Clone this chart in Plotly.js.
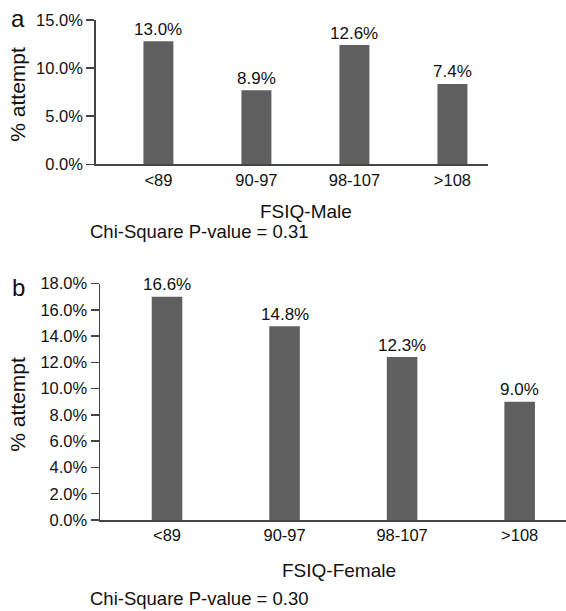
<!DOCTYPE html>
<html>
<head>
<meta charset="utf-8">
<script src="https://cdn.plot.ly/plotly-3.0.1.min.js"></script>
<style>
  html, body { margin: 0; padding: 0; background: #fff; }
  #chart { width: 566px; height: 611px; }
</style>
</head>
<body>
<div id="chart"></div>
<script>
// ---- Data ----
const categories = ["<89", "90-97", "98-107", ">108"];

// Panel a: FSIQ-Male — bar heights as drawn, and the printed labels
const maleValues = [12.8, 7.7, 12.4, 8.35];
const maleLabels = ["13.0%", "8.9%", "12.6%", "7.4%"];

// Panel b: FSIQ-Female
const femaleValues = [17.0, 14.75, 12.4, 9.0];
const femaleLabels = ["16.6%", "14.8%", "12.3%", "9.0%"];

const maleYTicks = [0, 5, 10, 15];
const femaleYTicks = [0, 2, 4, 6, 8, 10, 12, 14, 16, 18];

const maleXTitle = "FSIQ-Male";
const femaleXTitle = "FSIQ-Female";
const maleChi = "Chi-Square P-value = 0.31";
const femaleChi = "Chi-Square P-value = 0.30";
const yTitle = "% attempt";

// ---- Styling ----
const FONT = "Liberation Sans, Arial, Helvetica, sans-serif";
const BAR = "#5f5f5f";
const AXIS = "#444444";
const W = 566, H = 611;
const px = x => x / W;
const py = y => 1 - y / H;

const traces = [
  { type: "bar", x: categories, y: maleValues, xaxis: "x", yaxis: "y",
    marker: { color: BAR }, width: 0.306, hoverinfo: "skip" },
  { type: "bar", x: categories, y: femaleValues, xaxis: "x2", yaxis: "y2",
    marker: { color: BAR }, width: 0.26, hoverinfo: "skip" }
];

const tickFont = { family: FONT, size: 16.5, color: "#111" };

function yAxis(domain, range, ticks) {
  return {
    domain: domain, range: range, tickvals: ticks,
    ticktext: ticks.map(v => v.toFixed(1) + "%"),
    showgrid: false, zeroline: false, showline: true,
    linecolor: AXIS, linewidth: 1.5, ticks: "outside", ticklen: 8,
    tickcolor: AXIS, tickwidth: 1.5, tickfont: tickFont, fixedrange: true
  };
}
function xAxis(domain, range, anchor) {
  return {
    domain: domain, range: range, anchor: anchor, type: "category",
    showgrid: false, zeroline: false, showline: true,
    linecolor: AXIS, linewidth: 1.5, ticks: "", tickfont: tickFont,
    fixedrange: true
  };
}

const annotations = [];
function addLabels(values, labels, xref, yref) {
  categories.forEach((c, i) => {
    annotations.push({
      x: c, y: values[i], xref: xref, yref: yref, text: labels[i],
      showarrow: false, yanchor: "middle", xanchor: "center", yshift: 12,
      font: { family: FONT, size: 17, color: "#111" }
    });
  });
}
addLabels(maleValues, maleLabels, "x", "y");
addLabels(femaleValues, femaleLabels, "x2", "y2");

function paperText(text, x, y, size, opts) {
  annotations.push(Object.assign({
    text: text, x: x, y: y, xref: "paper", yref: "paper",
    showarrow: false, xanchor: "center", yanchor: "middle",
    font: { family: FONT, size: size, color: "#111" }
  }, opts || {}));
}
paperText("a", px(18.3), py(19), 24);
paperText("b", px(18.3), py(288), 24);
paperText(yTitle, px(16.7), py(94), 21, { textangle: -90 });
paperText(yTitle, px(16.7), py(404), 21, { textangle: -90 });
paperText(maleXTitle, px(306), py(211), 19);
paperText(femaleXTitle, px(339), py(570), 19);
paperText(maleChi, px(88), py(231.7), 18.5, { xanchor: "left" });
paperText(femaleChi, px(88.3), py(598.3), 18.5, { xanchor: "left" });

const layout = {
  width: W, height: H,
  margin: { l: 0, r: 0, t: 0, b: 0 },
  paper_bgcolor: "#ffffff", plot_bgcolor: "#ffffff",
  showlegend: false,
  font: { family: FONT, color: "#111" },
  xaxis: xAxis([px(95.7), px(487.7)], [-0.64, 3.36], "y"),
  yaxis: Object.assign(yAxis([py(164.3), py(20)], [0, 15], maleYTicks), { anchor: "x" }),
  xaxis2: xAxis([px(100), px(565.5)], [-0.57, 3.39], "y2"),
  yaxis2: Object.assign(yAxis([py(520), py(283.5)], [0, 18], femaleYTicks), { anchor: "x2" }),
  annotations: annotations
};

Plotly.newPlot("chart", traces, layout, { staticPlot: true, displayModeBar: false });
</script>
</body>
</html>
